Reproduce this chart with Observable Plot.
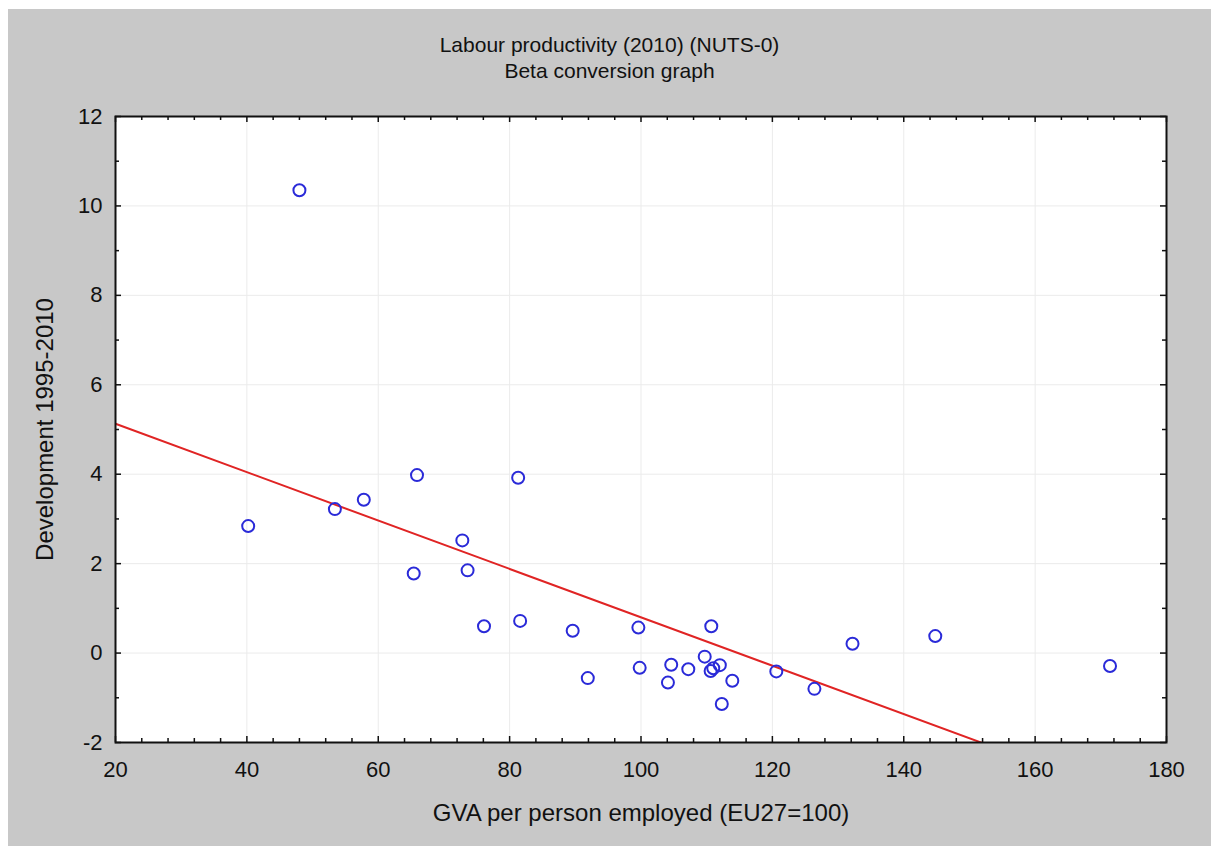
<!DOCTYPE html>
<html>
<head>
<meta charset="utf-8">
<script src="https://cdn.jsdelivr.net/npm/d3@7"></script>
<script src="https://cdn.jsdelivr.net/npm/@observablehq/plot@0.6"></script>
<style>
  html, body { margin: 0; padding: 0; background: #ffffff; }
  #panel { position: absolute; left: 8px; top: 9px; width: 1203px; height: 837px; background: #c8c8c8; font-family: "Liberation Sans", Arial, sans-serif; color: #111; }
  .title { position: absolute; left: 0; width: 1203px; text-align: center; font-size: 21px; line-height: 26px; }
  #chart { position: absolute; left: 0; top: 81px; }
</style>
</head>
<body>
<div id="panel">
  <div class="title" style="top:23px">Labour productivity (2010) (NUTS-0)</div>
  <div class="title" style="top:49px">Beta conversion graph</div>
  <div id="chart"></div>
</div>
<script>
// ---- data ----
const gva = [48.0, 40.2, 53.4, 57.8, 65.9, 65.4, 72.8, 73.6, 81.3, 76.1, 81.6, 89.6, 91.9, 99.6, 99.8,
             104.6, 104.1, 107.2, 109.7, 110.7, 110.6, 111.0, 112.0, 113.9, 112.3, 120.6, 126.4, 132.2, 144.8, 171.4];
const development = [10.35, 2.84, 3.22, 3.43, 3.98, 1.78, 2.52, 1.85, 3.92, 0.60, 0.72, 0.50, -0.56, 0.57, -0.33,
             -0.26, -0.66, -0.36, -0.08, 0.60, -0.40, -0.34, -0.27, -0.62, -1.14, -0.41, -0.80, 0.21, 0.38, -0.29];
const fitIntercept = 6.21;
const fitSlope = -0.0541;
const fitRange = [20, 180];
const xMajorTicks = [20, 40, 60, 80, 100, 120, 140, 160, 180];
const xMinorTicks = d3.range(20, 181, 4).filter(v => !xMajorTicks.includes(v));
const yMajorTicks = [-2, 0, 2, 4, 6, 8, 10, 12];
const yMinorTicks = [-1, 1, 3, 5, 7, 9, 11];
const xLabel = "GVA per person employed (EU27=100)";
const yLabel = "Development 1995-2010";

const points = gva.map((x, i) => ({x, y: development[i]}));
const fitLine = fitRange.map(x => ({x, y: fitIntercept + fitSlope * x}));

// ---- layout ----
const W = 1203, H = 765;
const mL = 107, mR = 45, mT = 26, mB = 113;
const innerW = W - mL - mR, innerH = H - mT - mB;
const major = 6, minor = 4;
const fmt = d => String(d); // plain hyphen for negatives, as in the reference

const chart = Plot.plot({
  width: W, height: H,
  marginLeft: mL, marginRight: mR, marginTop: mT, marginBottom: mB,
  style: { background: "transparent", fontFamily: "Liberation Sans, Arial, sans-serif", color: "#111" },
  x: { domain: [20, 180] },
  y: { domain: [-2, 12] },
  marks: [
    Plot.frame({ fill: "white" }),
    Plot.gridX(xMajorTicks, { stroke: "#ebebeb", strokeOpacity: 1 }),
    Plot.gridY(yMajorTicks, { stroke: "#ebebeb", strokeOpacity: 1 }),
    // inward ticks: bottom / top
    Plot.tickX(xMajorTicks, { x: d => d, insetTop: innerH - major, stroke: "#111", strokeWidth: 1.5 }),
    Plot.tickX(xMajorTicks, { x: d => d, insetBottom: innerH - major, stroke: "#111", strokeWidth: 1.5 }),
    Plot.tickX(xMinorTicks, { x: d => d, insetTop: innerH - minor, stroke: "#111", strokeWidth: 1.5 }),
    Plot.tickX(xMinorTicks, { x: d => d, insetBottom: innerH - minor, stroke: "#111", strokeWidth: 1.5 }),
    // inward ticks: left / right
    Plot.tickY(yMajorTicks, { y: d => d, insetRight: innerW - major, stroke: "#111", strokeWidth: 1.5 }),
    Plot.tickY(yMajorTicks, { y: d => d, insetLeft: innerW - major, stroke: "#111", strokeWidth: 1.5 }),
    Plot.tickY(yMinorTicks, { y: d => d, insetRight: innerW - minor, stroke: "#111", strokeWidth: 1.5 }),
    Plot.tickY(yMinorTicks, { y: d => d, insetLeft: innerW - minor, stroke: "#111", strokeWidth: 1.5 }),
    Plot.axisX({ anchor: "bottom", ticks: xMajorTicks, tickFormat: fmt, tickSize: 0, tickPadding: 19, fontSize: 22, label: null }),
    Plot.axisY({ anchor: "left", ticks: yMajorTicks, tickFormat: fmt, tickSize: 0, tickPadding: 13, fontSize: 22, label: null }),
    Plot.line(fitLine, { x: "x", y: "y", stroke: "#e02424", strokeWidth: 2, clip: true }),
    Plot.dot(points, { x: "x", y: "y", r: 6, stroke: "#2a2ad8", strokeWidth: 2, fill: "none" }),
    Plot.frame({ stroke: "#111", strokeWidth: 2 }),
    Plot.text([xLabel], { text: d => d, frameAnchor: "bottom", dy: 78, fontSize: 24, fill: "#111" }),
    Plot.text([yLabel], { text: d => d, frameAnchor: "left", textAnchor: "middle", dx: -70, rotate: -90, fontSize: 24, fill: "#111" })
  ]
});
document.getElementById("chart").appendChild(chart);
</script>
</body>
</html>
